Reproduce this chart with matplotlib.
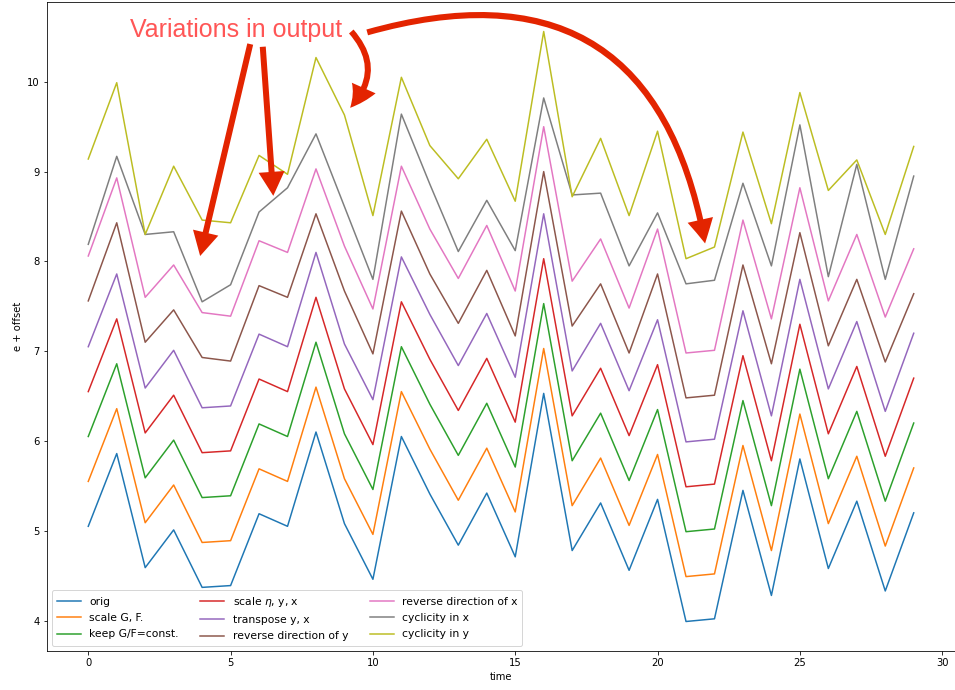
import matplotlib
matplotlib.use("Agg")
import matplotlib.pyplot as plt
import numpy as np

t = np.arange(30)

# e values (offset is added when plotting)
e_orig = [5.05, 5.86, 4.59, 5.01, 4.37, 4.39, 5.19, 5.05, 6.10, 5.08,
          4.46, 6.05, 5.41, 4.84, 5.42, 4.71, 6.53, 4.78, 5.31, 4.56,
          5.35, 3.99, 4.02, 5.45, 4.28, 5.80, 4.58, 5.33, 4.33, 5.20]
e_reverse = [5.06, 5.93, 4.60, 4.96, 4.43, 4.39, 5.23, 5.10, 6.03, 5.17,
             4.47, 6.06, 5.36, 4.81, 5.40, 4.67, 6.50, 4.78, 5.25, 4.48,
             5.36, 3.98, 4.01, 5.46, 4.36, 5.82, 4.56, 5.30, 4.38, 5.14]
e_cyc_x = [4.69, 5.67, 4.80, 4.83, 4.05, 4.24, 5.05, 5.32, 5.92, 5.11,
           4.30, 6.14, 5.36, 4.61, 5.18, 4.62, 6.32, 5.24, 5.26, 4.45,
           5.04, 4.25, 4.29, 5.37, 4.45, 6.02, 4.33, 5.58, 4.30, 5.45]
e_cyc_y = [5.14, 5.99, 4.30, 5.06, 4.46, 4.43, 5.18, 4.97, 6.27, 5.63,
           4.51, 6.05, 5.29, 4.92, 5.36, 4.67, 6.56, 4.72, 5.37, 4.51,
           5.45, 4.03, 4.16, 5.44, 4.42, 5.88, 4.79, 5.13, 4.30, 5.28]

labels = ["orig", "scale G, F.", "keep G/F=const.", r"scale $\eta$, y, x",
          "transpose y, x", "reverse direction of y", "reverse direction of x",
          "cyclicity in x", "cyclicity in y"]
series = [e_orig, e_orig, e_orig, e_orig, e_orig,
          e_reverse, e_reverse, e_cyc_x, e_cyc_y]

fig = plt.figure(figsize=(955 / 72, 690 / 72), dpi=72)
ax = fig.add_axes([47 / 955, 39 / 690, 908 / 955, 649 / 690])

for i, (lab, e) in enumerate(zip(labels, series)):
    ax.plot(t, np.array(e) + 0.5 * i, label=lab)

ax.set_xlabel("time")
ax.set_ylabel("e + offset")
ax.set_xticks([0, 5, 10, 15, 20, 25, 30])
ax.set_yticks([4, 5, 6, 7, 8, 9, 10])
ax.legend(loc="lower left", ncol=3, fontsize=10.7, handlelength=2.25,
          labelspacing=0.6)

# annotation
red = "#e32400"
ax.text(5.20, 10.58, "Variations in output", color="#ff4d4d", fontsize=25,
        family="Liberation Sans", ha="center", va="center", alpha=0.95)

arrow = dict(arrowstyle="simple,head_length=1.2,head_width=1.3,tail_width=0.3",
             mutation_scale=20, color=red, lw=0, shrinkA=0, shrinkB=0)
ax.annotate("", xy=(3.93, 8.06), xytext=(5.69, 10.42), arrowprops=arrow)
ax.annotate("", xy=(6.50, 8.73), xytext=(6.13, 10.39), arrowprops=arrow)
ax.annotate("", xy=(9.20, 9.71), xytext=(9.24, 10.56),
            arrowprops=dict(arrow, connectionstyle="arc3,rad=-0.45"))
ax.annotate("", xy=(21.67, 8.20), xytext=(9.80, 10.55),
            arrowprops=dict(arrow, connectionstyle="arc3,rad=-0.55"))

fig.savefig("out.png", dpi=72)
